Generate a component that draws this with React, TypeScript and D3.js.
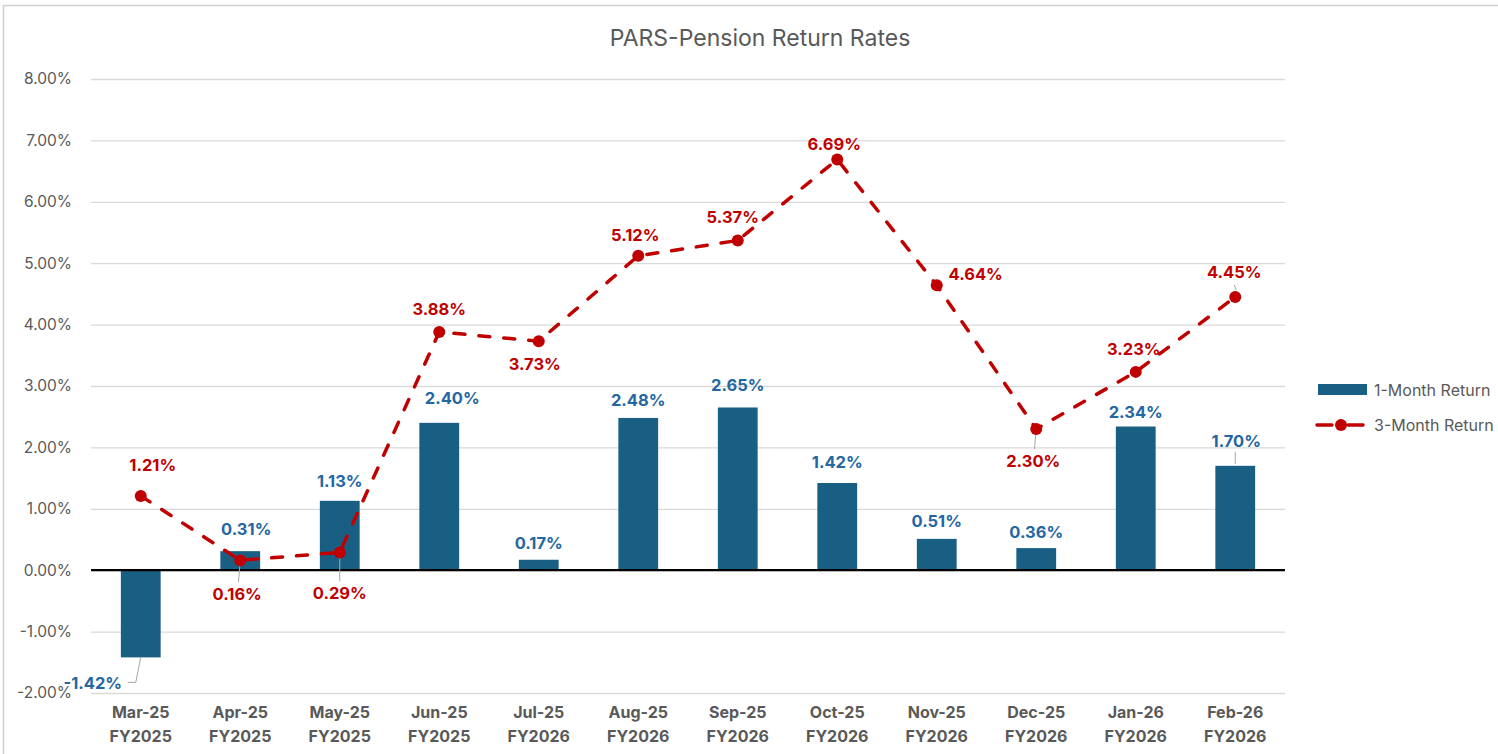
import React, { useRef, useEffect } from "react"
import * as d3 from "d3"

const months = ["Mar-25", "Apr-25", "May-25", "Jun-25", "Jul-25", "Aug-25", "Sep-25", "Oct-25", "Nov-25", "Dec-25", "Jan-26", "Feb-26"]
const fiscalYears = ["FY2025", "FY2025", "FY2025", "FY2025", "FY2026", "FY2026", "FY2026", "FY2026", "FY2026", "FY2026", "FY2026", "FY2026"]
const oneMonth = [-1.42, 0.31, 1.13, 2.4, 0.17, 2.48, 2.65, 1.42, 0.51, 0.36, 2.34, 1.7]
const threeMonth = [1.21, 0.16, 0.29, 3.88, 3.73, 5.12, 5.37, 6.69, 4.64, 2.3, 3.23, 4.45]
const yTicks = [-2, -1, 0, 1, 2, 3, 4, 5, 6, 7, 8]
const seriesNames = ["1-Month Return", "3-Month Return"]

// label nudges, as Excel had them placed by hand
const barLabelOffset = [[-48, 26], [6, -22], [0, -20], [13, -25], [0, -17], [0, -18], [0, -22], [0, -21], [0, -18], [0, -16], [0, -14], [1, -25]]
const lineLabelOffset = [[12, -31], [-3, 34], [0, 41], [0, -23], [-4, 23], [-3, -21], [-5, -23], [-3, -15], [39, -11], [-3, 32], [-2, -23], [-1, -25]]

const BAR = "#195E83"
const RED = "#C00000"
const GREY = "#595959"
const FONT = "Inter, 'Liberation Sans', sans-serif"
const pct = (d: number) => d.toFixed(2) + "%"

function Chart() {
  const ref = useRef<SVGSVGElement>(null)
  const width = 1498
  const height = 754
  const margin = { top: 79, right: 213, bottom: 61, left: 91 }

  useEffect(() => {
    const svg = d3.select(ref.current)
    svg.selectAll("*").remove()

    svg
      .append("rect")
      .attr("x", 3.5)
      .attr("y", 5.5)
      .attr("width", width + 10)
      .attr("height", height + 10)
      .attr("fill", "#fff")
      .attr("stroke", "#cfcfcf")
      .attr("stroke-width", 1.5)

    const x = d3
      .scaleBand()
      .domain(months)
      .range([margin.left, width - margin.right])
      .paddingInner(0.6)
      .paddingOuter(0.3)
    const y = d3
      .scaleLinear()
      .domain([-2, 8])
      .range([height - margin.bottom, margin.top])
    const cx = (i: number) => (x(months[i]) as number) + x.bandwidth() / 2

    svg
      .append("text")
      .attr("x", 760)
      .attr("y", 46)
      .attr("text-anchor", "middle")
      .style("font-family", FONT)
      .style("font-size", "23px")
      .attr("fill", GREY)
      .text("PARS-Pension Return Rates")

    const yAxis = svg
      .append("g")
      .attr("transform", `translate(${margin.left},0)`)
      .call(
        d3
          .axisLeft(y)
          .tickValues(yTicks)
          .tickSize(-(width - margin.left - margin.right))
          .tickPadding(19)
          .tickFormat(d => pct(d as number))
      )
    yAxis.select(".domain").remove()
    yAxis.selectAll("line").attr("stroke", "#d9d9d9").attr("stroke-width", 1.3)
    yAxis
      .selectAll("text")
      .style("font-family", FONT)
      .style("font-size", "15.5px")
      .attr("fill", GREY)

    svg
      .append("g")
      .selectAll("rect")
      .data(oneMonth)
      .join("rect")
      .attr("x", (d, i) => x(months[i]) as number)
      .attr("y", d => y(Math.max(0, d)))
      .attr("width", x.bandwidth())
      .attr("height", d => Math.abs(y(d) - y(0)))
      .attr("fill", BAR)

    svg
      .append("line")
      .attr("x1", margin.left)
      .attr("x2", width - margin.right)
      .attr("y1", y(0))
      .attr("y2", y(0))
      .attr("stroke", "#000")
      .attr("stroke-width", 2.2)

    const xLabels = svg.append("g")
    months.forEach((m, i) => {
      const t = xLabels
        .append("text")
        .attr("x", cx(i))
        .attr("text-anchor", "middle")
        .style("font-family", FONT)
        .style("font-size", "16px")
        .style("font-weight", "bold")
        .attr("fill", GREY)
      t.append("tspan").attr("x", cx(i)).attr("y", 718).text(m)
      t.append("tspan").attr("x", cx(i)).attr("y", 742).text(fiscalYears[i])
    })

    const line = d3
      .line<number>()
      .x((d, i) => cx(i))
      .y(d => y(d))
    svg
      .append("path")
      .datum(threeMonth)
      .attr("d", line)
      .attr("fill", "none")
      .attr("stroke", RED)
      .attr("stroke-width", 3.5)
      .attr("stroke-dasharray", "11,14")
      .attr("stroke-linecap", "round")

    // leader lines
    const leaders = svg.append("g").attr("stroke", "#a6a6a6").attr("fill", "none")
    leaders.append("path").attr("d", `M${cx(0)},${y(oneMonth[0])} L${cx(0) - 5},${y(oneMonth[0]) + 25} L${cx(0) - 13},${y(oneMonth[0]) + 25}`)
    leaders.append("path").attr("d", `M${cx(11)},${y(oneMonth[11]) - 2} L${cx(11)},${y(oneMonth[11]) - 14}`)
    ;[1, 2, 9].forEach(i => {
      const [dx, dy] = lineLabelOffset[i]
      leaders.append("path").attr("d", `M${cx(i)},${y(threeMonth[i])} L${cx(i) + dx * 0.6},${y(threeMonth[i]) + dy - 12}`)
    })
    leaders.append("path").attr("d", `M${cx(11) - 1},${y(threeMonth[11]) - 12} L${cx(11) + 1},${y(threeMonth[11]) - 7}`)

    svg
      .append("g")
      .selectAll("circle")
      .data(threeMonth)
      .join("circle")
      .attr("cx", (d, i) => cx(i))
      .attr("cy", d => y(d))
      .attr("r", 6)
      .attr("fill", RED)

    svg
      .append("g")
      .selectAll("text")
      .data(oneMonth)
      .join("text")
      .attr("x", (d, i) => cx(i) + barLabelOffset[i][0])
      .attr("y", (d, i) => y(d) + barLabelOffset[i][1])
      .attr("dy", "0.35em")
      .attr("text-anchor", "middle")
      .style("font-family", FONT)
      .style("font-size", "16.5px")
      .style("font-weight", "bold")
      .attr("fill", "#2467A3")
      .text(d => pct(d))

    svg
      .append("g")
      .selectAll("text")
      .data(threeMonth)
      .join("text")
      .attr("x", (d, i) => cx(i) + lineLabelOffset[i][0])
      .attr("y", (d, i) => y(d) + lineLabelOffset[i][1])
      .attr("dy", "0.35em")
      .attr("text-anchor", "middle")
      .style("font-family", FONT)
      .style("font-size", "16.5px")
      .style("font-weight", "bold")
      .attr("fill", RED)
      .text(d => pct(d))

    const legend = svg.append("g").attr("transform", "translate(1316,0)")
    legend.append("rect").attr("x", 2).attr("y", 384).attr("width", 49).attr("height", 11).attr("fill", BAR)
    ;[[1, 16], [32, 47]].forEach(([a, b]) => {
      legend
        .append("line")
        .attr("x1", a)
        .attr("x2", b)
        .attr("y1", 425)
        .attr("y2", 425)
        .attr("stroke", RED)
        .attr("stroke-width", 3.5)
        .attr("stroke-linecap", "round")
    })
    legend.append("circle").attr("cx", 25).attr("cy", 425).attr("r", 6).attr("fill", RED)
    seriesNames.forEach((n, i) => {
      legend
        .append("text")
        .attr("x", 58)
        .attr("y", 390 + i * 35)
        .attr("dy", "0.35em")
        .style("font-family", FONT)
        .style("font-size", "16px")
        .attr("fill", GREY)
        .text(n)
    })
  }, [])

  return <svg ref={ref} width={width} height={height} style={{ display: "block" }}></svg>
}

export default function App() {
  return (
    <div style={{ position: "fixed", left: 0, top: 0, width: 1498, height: 754, overflow: "hidden", background: "#fff" }}>
      <Chart />
    </div>
  )
}
